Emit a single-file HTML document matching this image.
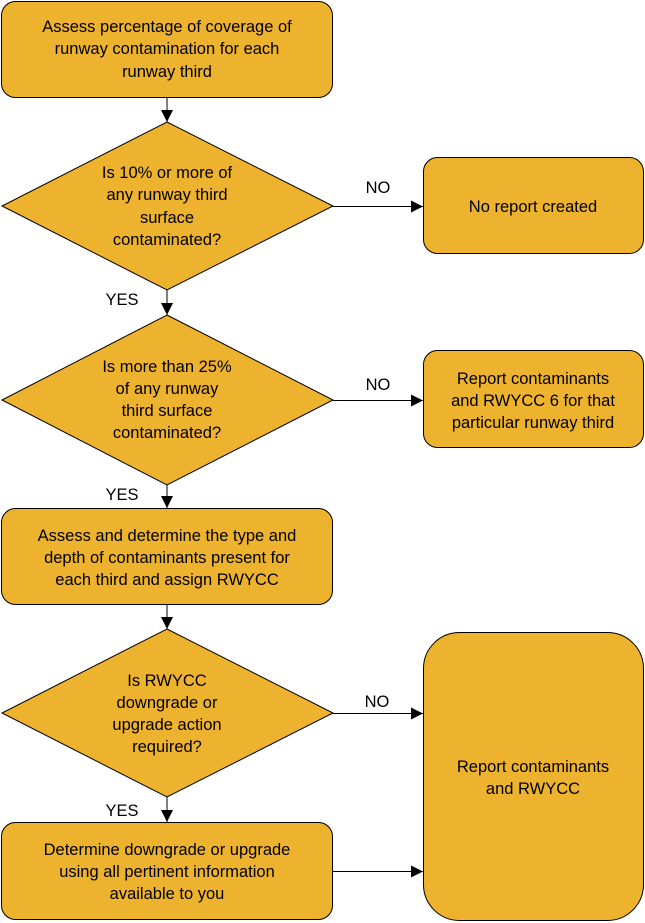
<!DOCTYPE html>
<html><head><meta charset="utf-8"><style>
html,body{margin:0;padding:0;background:#fff;}
svg{display:block;}
text{font-family:"Liberation Sans",sans-serif;font-size:16.5px;fill:#000;text-anchor:middle;}
</style></head><body>
<svg width="645" height="923" viewBox="0 0 645 923" xmlns="http://www.w3.org/2000/svg">
<defs><marker id="a" markerWidth="12" markerHeight="12" refX="12" refY="6" orient="auto" markerUnits="userSpaceOnUse"><path d="M0,0 L12,6 L0,12 z" fill="#000"/></marker></defs>
<g fill="#EDB22E" stroke="#000" stroke-width="1">
<rect x="1.5" y="1.5" width="331" height="96" rx="14"/>
<polygon points="167,122 333,206 167,290 2,206"/>
<rect x="423.5" y="157.5" width="220" height="96" rx="14"/>
<polygon points="167,315 333,400 167,485 2,400"/>
<rect x="423.5" y="350.5" width="220" height="97" rx="14"/>
<rect x="1.5" y="508.5" width="331" height="96" rx="14"/>
<polygon points="167,629 333,713 167,797 2,713"/>
<rect x="1.5" y="822.5" width="331" height="97" rx="14"/>
<rect x="423.5" y="632.5" width="220" height="288" rx="36"/>
</g>
<g stroke="#000" stroke-width="1" marker-end="url(#a)">
<line x1="167" y1="98" x2="167" y2="122"/>
<line x1="333" y1="206.5" x2="423" y2="206.5"/>
<line x1="167" y1="290" x2="167" y2="315"/>
<line x1="333" y1="400.5" x2="423" y2="400.5"/>
<line x1="167" y1="605" x2="167" y2="629"/>
<line x1="167" y1="485" x2="167" y2="508"/>
<line x1="333" y1="713.5" x2="423" y2="713.5"/>
<line x1="167" y1="797" x2="167" y2="822"/>
<line x1="333" y1="871.5" x2="423" y2="871.5"/>
</g>
<text x="167" y="32">Assess percentage of coverage of</text>
<text x="167" y="54">runway contamination for each</text>
<text x="167" y="77">runway third</text>
<text x="167" y="178">Is 10% or more of</text>
<text x="167" y="200">any runway third</text>
<text x="167" y="223">surface</text>
<text x="167" y="245">contaminated?</text>
<text x="378" y="193">NO</text>
<text x="533" y="212">No report created</text>
<text x="122" y="305">YES</text>
<text x="167" y="372">Is more than 25%</text>
<text x="167" y="394">of any runway</text>
<text x="167" y="416">third surface</text>
<text x="167" y="438">contaminated?</text>
<text x="378" y="390">NO</text>
<text x="533" y="384">Report contaminants</text>
<text x="533" y="406">and RWYCC 6 for that</text>
<text x="533" y="428">particular runway third</text>
<text x="122" y="500">YES</text>
<text x="167" y="541">Assess and determine the type and</text>
<text x="167" y="563">depth of contaminants present for</text>
<text x="167" y="585">each third and assign RWYCC</text>
<text x="167" y="686">Is RWYCC</text>
<text x="167" y="708">downgrade or</text>
<text x="167" y="730">upgrade action</text>
<text x="167" y="752">required?</text>
<text x="377" y="707">NO</text>
<text x="122" y="816">YES</text>
<text x="533" y="772">Report contaminants</text>
<text x="533" y="794">and RWYCC</text>
<text x="167" y="855">Determine downgrade or upgrade</text>
<text x="167" y="877">using all pertinent information</text>
<text x="167" y="899">available to you</text>
</svg>
</body></html>
